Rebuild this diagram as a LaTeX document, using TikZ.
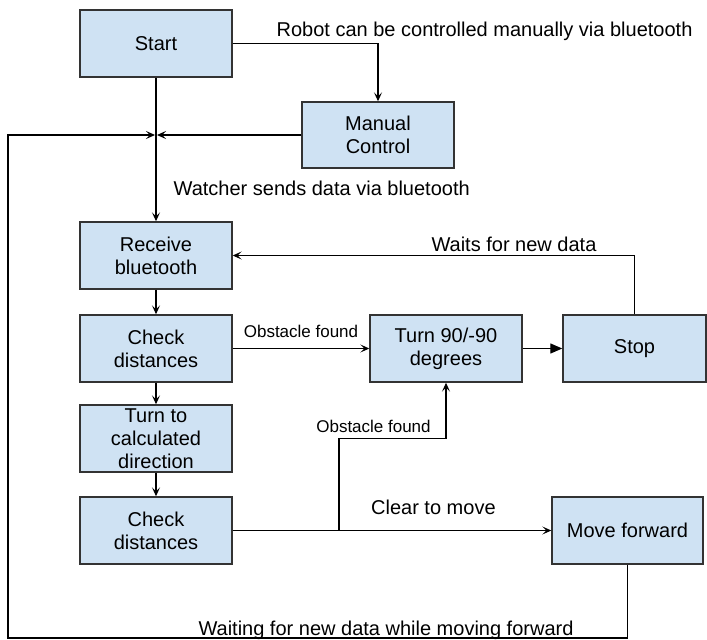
\documentclass[tikz,border=0pt]{standalone}
\usepackage{fontspec}
\setmainfont{Liberation Sans}
\usepackage{tikz}
\usetikzlibrary{arrows.meta}
\definecolor{boxfill}{RGB}{207,226,243}
\definecolor{boxline}{RGB}{51,51,51}
\tikzset{%
	every box/.style={
		rectangle,
		draw=boxline,
		line width=1.4pt,
		fill=boxfill,
		minimum width=152pt,
		minimum height=67pt,
		inner sep=0pt,
		align=center,
		font=\fontsize{20}{23}\selectfont
	},
	box manual/.style={minimum height=66pt},
	box stop/.style={minimum width=143pt},
	box move/.style={minimum width=151pt},
	flow label/.style={font=\fontsize{20}{23}\selectfont, inner sep=0pt},
	small label/.style={font=\fontsize{17}{20}\selectfont, inner sep=0pt},
}
\begin{document}
\begin{tikzpicture}[x=1pt, y=-1pt, line width=1.3pt,
		>={Stealth[length=9pt, width=8pt, inset=4pt]}]
			\useasboundingbox (0,0) rectangle (707,640);
			
			\node [every box/.try] (start) at (156,43.5) {Start};
			\node [every box/.try, box manual/.try] (manual) at (378,135) {Manual\\Control};
			
			\foreach \m/\l/\y in {receive/{Receive\\bluetooth}/255.5, check-1/{Check\\distances}/348.5, turn/{Turn to\\calculated\\direction}/438.5, check-2/{Check\\distances}/530.5}
			\node [every box/.try, box \m/.try] (\m) at (156,\y) {\l};
			
			\node [every box/.try] (turn90) at (446,348.5) {Turn 90/-90\\degrees};
			\foreach \m/\l/\x/\y in {stop/Stop/634.5/348.5, move/Move forward/627.5/530.5}
			\node [every box/.try, box \m/.try] (\m) at (\x,\y) {\l};
			
			\coordinate (join) at (156,135);
			\coordinate (branch) at (339,530.5);
			
			% start, manual control and the main line down
			\draw [->] (start) -- (receive);
			\draw [->] (start.east) -| (manual.north);
			\draw [->, shorten >=1pt] (manual.west) -- (join);
			\node [flow label, anchor=base west] (lbl-manual) at (276,36) {Robot can be controlled manually via bluetooth};
			\node [flow label, anchor=base west] (lbl-watcher) at (173,195) {Watcher sends data via bluetooth};
			
			\foreach \a/\b in {receive/check-1, check-1/turn, turn/check-2}
			\draw [->] (\a) -- (\b);
			
			\draw [->] (check-1) -- (turn90)
			node [small label, above=10pt, midway] (lbl-obst-1) {Obstacle found};
			\draw [-{Triangle[length=12pt, width=10pt]}] (turn90) -- (stop);
			\draw [->] (stop.north) |- (receive.east)
			node [flow label, above=3pt, pos=0.65] (lbl-wait) {Waits for new data};
			
			\draw [->] (check-2) -- (move)
			node [flow label, above=15pt, pos=0.63] (lbl-clear) {Clear to move};
			\draw [->] (branch) -- ++(0,-92) -| (turn90.south);
			\node [small label, anchor=base] (lbl-obst-2) at (373.5,432) {Obstacle found};
			
			% loop back while moving
			\draw [->, shorten >=1pt] (move.south) |- (8,638) |- (join);
			\node [flow label, anchor=base] (lbl-moving) at (386,635) {Waiting for new data while moving forward};
			
		\end{tikzpicture}
\end{document}
